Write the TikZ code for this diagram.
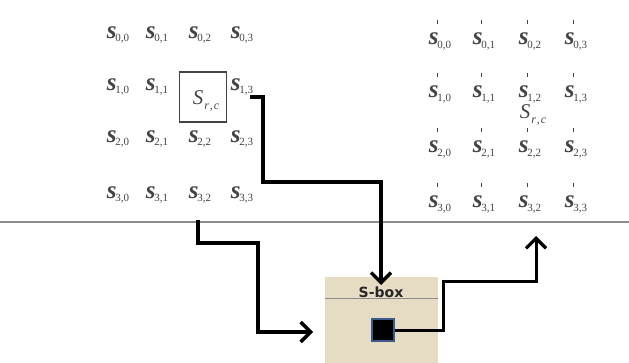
\documentclass[tikz,border=0pt]{standalone}
\usepackage{fontspec}
\setmainfont{Liberation Serif}
\newfontfamily\boxfont{DejaVu Sans}
\usetikzlibrary{arrows.meta}
\definecolor{txt}{HTML}{444444}
\definecolor{sboxfill}{HTML}{E6DCC4}
\definecolor{rule}{HTML}{8C8C8C}
\definecolor{edge}{HTML}{3B5A8A}
% state element s_{r,c}
\newcommand\elem[1]{{\fontsize{25}{25}\selectfont\bfseries\itshape s}\kern-1pt\raisebox{-3.5pt}{\fontsize{11}{11}\selectfont #1}}
% the same element with a prime tick above it
\newcommand\elemp[1]{\rlap{\kern8pt\raisebox{21pt}{\rule{1.2pt}{3.5pt}}}\elem{#1}}
% the generic element S_{r,c}
\newcommand\generic{{\fontsize{21}{21}\selectfont\itshape S}\kern1pt\raisebox{-5pt}{\fontsize{12}{12}\selectfont\itshape r\kern1pt,\kern1pt c}}
\begin{document}
\begin{tikzpicture}[x=1pt,y=-1pt,
  cell/.style={text=txt,inner sep=0pt,anchor=center},
  flow/.style={line width=3.8pt,-{Straight Barb[length=10pt,width=20pt,line width=3.4pt]}},
  flowthin/.style={line width=3pt,-{Straight Barb[length=10pt,width=20pt,line width=3.2pt]}}]
\useasboundingbox (0,0) rectangle (629,363);

% left state array
\foreach \r/\y in {0/35,1/87,2/139,3/195}{
  \foreach \c/\x in {0/118,1/157,2/200,3/242}{
    \ifnum\r=1 \ifnum\c=2 \else
      \node[cell] (s\r\c) at (\x,\y) {\elem{\r,\c}};
    \fi\else
      \node[cell] (s\r\c) at (\x,\y) {\elem{\r,\c}};
    \fi
  }
}
% highlighted element
\node[draw=txt,line width=1.2pt,minimum width=47pt,minimum height=50pt,inner sep=0pt]
  (src) at (203,97) {};
\node[cell] (srclab) at (206,101) {\generic};

% right state array
\foreach \r/\y in {0/35,1/88,2/143,3/198}{
  \foreach \c/\x in {0/440,1/484,2/530,3/576}{
    \node[cell] (t\r\c) at (\x,\y) {\elemp{\r,\c}};
  }
}
\node[cell] (dstlab) at (533,115) {\generic};

% separator
\draw[rule,line width=1.6pt] (0,222) -- (629,222);

% S-box
\node[fill=sboxfill,minimum width=113pt,minimum height=87pt,inner sep=0pt,anchor=north west]
  (sbox) at (325,277) {};
\draw[rule,line width=0.5pt] (sbox.west |- 0,298) -- (sbox.east |- 0,298);
\node[font=\boxfont\bfseries\fontsize{14}{14}\selectfont,text=black!85] (sboxlab) at (381,292) {S-box};
\node[fill=black,draw=edge,line width=1.4pt,minimum size=22pt,inner sep=0pt] (sq) at (383,330) {};

% arrows
\coordinate (a0) at (250,97);
\coordinate (a1) at (263,182);
\draw[flow,shorten >=-1pt] (a0) -| (a1) -| ([yshift=-7pt]sbox.north -| sboxlab);

\coordinate (b0) at (198,220);
\coordinate (b1) at (258,243);
\coordinate (b2) at (313,332);
\draw[flow] (b0) |- (b1) |- (b2);

\coordinate (c1) at (443,282);
\coordinate (c2) at (536,236);
\draw[flowthin] (sq.east) -| (c1) -| (c2);
\end{tikzpicture}
\end{document}
